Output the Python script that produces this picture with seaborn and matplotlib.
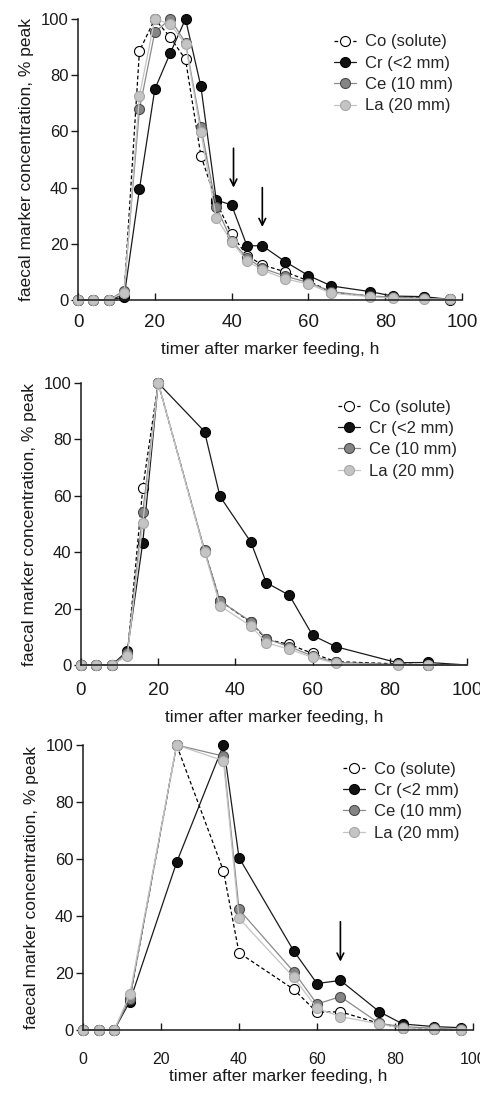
import matplotlib
matplotlib.use("Agg")
import matplotlib.pyplot as plt
import seaborn as sns
import pandas as pd
import numpy as np

sns.set_style("ticks")
FAM = ['Liberation Sans Narrow', 'Liberation Sans', 'DejaVu Sans']
plt.rcParams['font.family'] = FAM

series_names = ["Co (solute)", "Cr (<2 mm)", "Ce (10 mm)", "La (20 mm)"]

# Panel 1
t1 = [0, 4, 8, 12, 16, 20, 24, 28, 32, 36, 40, 44, 48, 54, 60, 66, 76, 82, 90, 97]
co1 = [0, 0, 0, 2.0, 88.6, 100, 93.5, 85.6, 51.4, 35.0, 23.4, 15.8, 12.5, 10.0, 6.8, 2.7, 1.4, 1.0, 1.0, 0]
cr1 = [0, 0, 0, 1.0, 39.5, 75.0, 87.8, 100, 76.0, 35.6, 33.8, 19.3, 19.3, 13.6, 8.7, 5.0, 3.0, 1.4, 1.2, 0.2]
ce1 = [0, 0, 0, 3.3, 67.9, 95.3, 100, 91.6, 61.7, 33.2, 21.1, 15.0, 11.3, 8.5, 6.2, 3.0, 1.4, 1.0, 0.6, 0.2]
la1 = [0, 0, 0, 2.6, 72.7, 100, 98.2, 91.0, 59.7, 29.3, 20.8, 13.9, 10.7, 7.5, 5.7, 2.4, 1.2, 0.6, 0.4, 0.2]

# Panel 2
t2 = [0, 4, 8, 12, 16, 20, 32, 36, 44, 48, 54, 60, 66, 82, 90, 100]
co2 = [0, 0, 0, 3.6, 62.7, 100, 40.5, 22.8, 15.1, 9.1, 7.3, 4.1, 1.2, 0.4, 0.0, 0]
cr2 = [0, 0, 0, 5.0, 43.4, 100, 82.8, 59.8, 43.6, 29.2, 24.7, 10.5, 6.5, 0.8, 0.9, 0]
ce2 = [0, 0, 0, 4.1, 54.2, 100, 40.8, 22.7, 15.4, 9.3, 6.5, 3.2, 0.9, 0.2, 0.0, 0]
la2 = [0, 0, 0, 3.3, 50.3, 100, 40.2, 21.0, 13.8, 7.9, 5.6, 2.7, 0.6, 0.0, 0.0, 0]

# Panel 3
t3 = [0, 4, 8, 12, 24, 36, 40, 54, 60, 66, 76, 82, 90, 97]
co3 = [0, 0, 0, 11.0, 100, 55.9, 27.1, 14.3, 6.2, 6.4, 2.3, 0.6, 0.2, 0]
cr3 = [0, 0, 0, 10.0, 58.8, 100, 60.5, 27.8, 16.3, 17.4, 6.4, 2.1, 1.2, 0.8]
ce3 = [0, 0, 0, 11.0, 100, 96.1, 42.3, 20.5, 9.1, 11.7, 2.3, 1.2, 0.6, 0.2]
la3 = [0, 0, 0, 12.5, 100, 94.5, 39.2, 18.5, 7.6, 4.7, 2.1, 0.6, 0.2, 0]

arrows1 = [(40.5, 54, 40), (48, 40, 26)]
arrows3 = [(66, 38, 24)]

xticks = [0, 20, 40, 60, 80, 100]
yticks = [0, 20, 40, 60, 80, 100]

styles = {
    "Co (solute)": dict(color="black", ls=(0, (3, 2)), mfc="white", mec="black"),
    "Cr (<2 mm)": dict(color="#1a1a1a", ls="-", mfc="#111111", mec="black"),
    "Ce (10 mm)": dict(color="#8a8a8a", ls="-", mfc="#858585", mec="#4a4a4a"),
    "La (20 mm)": dict(color="#c4c4c4", ls="-", mfc="#c4c4c4", mec="#a8a8a8"),
}

W, H = 481, 1095
fig = plt.figure(figsize=(W / 100, H / 100), dpi=100)

panels = [
    dict(t=t1, vals=[co1, cr1, ce1, la1], box=(78, 19, 462, 300), arrows=arrows1,
         xtfs=13.5, xpad=10, lpad=8, legxy=(0.667, 0.945), skip_last=False),
    dict(t=t2, vals=[co2, cr2, ce2, la2], box=(81, 383, 467, 665), arrows=[],
         xtfs=13.5, xpad=12.5, lpad=8, legxy=(0.666, 0.941), skip_last=True),
    dict(t=t3, vals=[co3, cr3, ce3, la3], box=(83, 745, 473, 1030), arrows=arrows3,
         xtfs=11.5, xpad=16, lpad=1.5, legxy=(0.667, 0.942), skip_last=False),
]

for p in panels:
    l, tp, r, b = p["box"]
    ax = fig.add_axes([l / W, 1 - b / H, (r - l) / W, (b - tp) / H])
    for name, v in zip(series_names, p["vals"]):
        st = styles[name]
        n = len(p["t"])
        me = list(range(n - 1)) if p["skip_last"] else None
        sns.lineplot(x=p["t"], y=v, ax=ax, label=name, color=st["color"],
                     linestyle=st["ls"], linewidth=0.9, marker="o", markersize=7.2,
                     markerfacecolor=st["mfc"], markeredgecolor=st["mec"],
                     markeredgewidth=0.8, clip_on=False, markevery=me)
    for (xa, y0, y1) in p["arrows"]:
        ax.annotate("", xy=(xa, y1), xytext=(xa, y0),
                    arrowprops=dict(arrowstyle="->", color="black", lw=1.2,
                                    mutation_scale=12, shrinkA=0, shrinkB=0))
    ax.set_xlim(0, 100)
    ax.set_ylim(0, 100)
    ax.set_xticks(xticks)
    ax.set_yticks(yticks)
    ax.tick_params(axis="x", direction="in", length=5, width=1, pad=p["xpad"],
                   labelsize=p["xtfs"], colors="#1a1a1a")
    ax.tick_params(axis="y", direction="out", length=5, width=1, pad=2,
                   labelsize=12, colors="#1a1a1a")
    for s in ["top", "right"]:
        ax.spines[s].set_visible(False)
    for s in ["left", "bottom"]:
        ax.spines[s].set_linewidth(1.1)
        ax.spines[s].set_color("#1a1a1a")
    ax.set_xlabel("timer after marker feeding, h", fontsize=12.5, labelpad=p["lpad"],
                  color="#1a1a1a")
    ax.set_ylabel("faecal marker concentration, % peak", fontsize=12.5, labelpad=5,
                  color="#1a1a1a")
    leg = ax.legend(loc="upper left", bbox_to_anchor=p["legxy"], frameon=False,
                    fontsize=12, handlelength=1.3, handletextpad=0.55,
                    labelspacing=0.38, borderpad=0, borderaxespad=0)

fig.savefig("out.png", dpi=100)
